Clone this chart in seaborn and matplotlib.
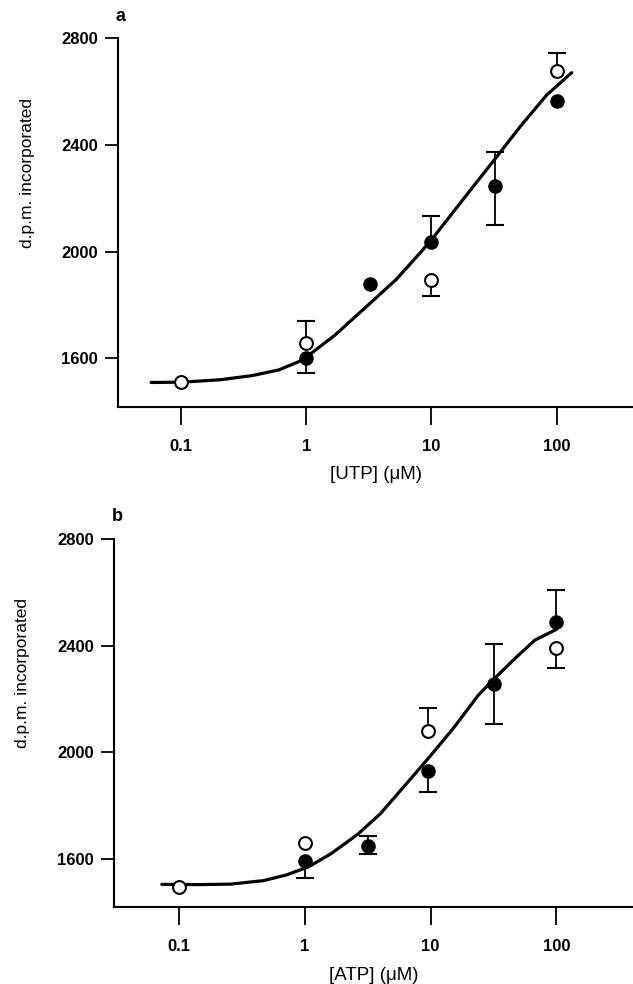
import numpy as np
import pandas as pd
import seaborn as sns
import matplotlib.pyplot as plt

# ---- panel a : UTP ----
utp_open_x = [0.1, 1, 10, 100]
utp_open_y = [1509, 1658, 1895, 2678]
utp_open_lo = [np.nan, np.nan, 60, np.nan]
utp_open_hi = [np.nan, 80, np.nan, 66]

utp_fill_x = [1, 3.2, 10, 32, 100]
utp_fill_y = [1602, 1880, 2036, 2245, 2563]
utp_fill_lo = [58, np.nan, np.nan, 144, np.nan]
utp_fill_hi = [np.nan, np.nan, 97, 130, np.nan]

# fitted curve (log10 of concentration, d.p.m.)
utp_curve_logx = [-1.24, -1.0, -0.69, -0.43, -0.22, -0.06, 0.0, 0.23, 0.54,
                  0.72, 0.93, 1.03, 1.26, 1.49, 1.72, 1.92, 2.12]
utp_curve_y = [1509, 1510, 1519, 1535, 1556, 1587, 1604, 1687, 1819,
               1896, 2006, 2062, 2200, 2337, 2475, 2587, 2671]

# ---- panel b : ATP ----
atp_open_x = [0.1, 1, 9.6, 100]
atp_open_y = [1496, 1659, 2080, 2390]
atp_open_lo = [np.nan, np.nan, np.nan, 72]
atp_open_hi = [np.nan, np.nan, 85, np.nan]

atp_fill_x = [1, 3.2, 9.6, 32, 100]
atp_fill_y = [1592, 1650, 1930, 2256, 2490]
atp_fill_lo = [62, 33, 78, 151, np.nan]
atp_fill_hi = [np.nan, 38, np.nan, 149, 119]

atp_curve_logx = [-1.14, -0.85, -0.59, -0.33, -0.15, 0.03, 0.21, 0.42, 0.6,
                  0.81, 1.0, 1.19, 1.38, 1.51, 1.68, 1.83, 2.0]
atp_curve_y = [1505, 1504, 1506, 1519, 1540, 1571, 1621, 1693, 1770,
               1884, 1988, 2096, 2215, 2278, 2356, 2421, 2461]

x_ticks = [0.1, 1, 10, 100]
x_ticklabels = ['0.1', '1', '10', '100']
y_ticks = [1600, 2000, 2400, 2800]

sns.set_theme(style='ticks')
plt.rcParams['font.family'] = ['Liberation Sans', 'DejaVu Sans']

fig = plt.figure(figsize=(6.33, 9.84), dpi=100)
ax_a = fig.add_axes([118 / 633, 1 - 407 / 984, 1 - 118 / 633, (407 - 38.3) / 984])
ax_b = fig.add_axes([114 / 633, 1 - 907.3 / 984, 1 - 114 / 633, (907.3 - 539) / 984])


def one_sided_bars(ax, x, y, lo, hi):
    # the original shows only one arm of the error bar where points crowd
    for xi, yi, l, h in zip(x, y, lo, hi):
        for d in (-l, h):
            if np.isnan(d):
                continue
            ax.plot([xi, xi], [yi, yi + d], color='black', lw=1.3, zorder=2)
            ax.plot([xi], [yi + d], marker='_', markersize=13, mew=1.5,
                    color='black', zorder=2)


def draw_panel(ax, cx, cy, ox, oy, olo, ohi, fx, fy, flo, fhi, xlabel, letter, xlim, ylim):
    curve = pd.DataFrame({'x': 10 ** np.array(cx), 'y': cy})
    one_sided_bars(ax, ox, oy, olo, ohi)
    one_sided_bars(ax, fx, fy, flo, fhi)
    sns.lineplot(data=curve, x='x', y='y', ax=ax, color='black', linewidth=2.3,
                 estimator=None, sort=False, zorder=3)
    sns.scatterplot(x=fx, y=fy, ax=ax, color='black', s=110, edgecolor='black',
                    linewidth=0, zorder=4)
    sns.scatterplot(x=ox, y=oy, ax=ax, color='white', s=85, edgecolor='black',
                    linewidth=1.5, zorder=5)
    ax.set_xscale('log')
    ax.set_xlim(*xlim)
    ax.set_ylim(*ylim)
    ax.set_xticks(x_ticks)
    ax.set_xticklabels(x_ticklabels)
    ax.xaxis.set_minor_locator(plt.NullLocator())
    ax.set_yticks(y_ticks)
    ax.set_yticklabels([str(v) for v in y_ticks])
    sns.despine(ax=ax)
    for s in ['left', 'bottom']:
        ax.spines[s].set_linewidth(1.5)
        ax.spines[s].set_color('black')
    ax.tick_params(axis='y', direction='out', length=9.5, width=1.3, pad=5,
                   labelsize=12, colors='black')
    ax.tick_params(axis='x', direction='out', length=13, width=1.3, pad=10,
                   labelsize=12, colors='black')
    for lab in ax.get_xticklabels() + ax.get_yticklabels():
        lab.set_fontweight('bold')
    ax.set_xlabel(xlabel, fontsize=13.5, labelpad=9, color='black')
    ax.set_ylabel('d.p.m. incorporated', fontsize=12.5, color='black')
    ax.yaxis.set_label_coords(-0.162, 0.635)
    ax.text(-0.005, 1.06, letter, transform=ax.transAxes, fontsize=13,
            fontweight='bold', ha='left', va='center', color='black')
    ax.set_facecolor('white')


draw_panel(ax_a, utp_curve_logx, utp_curve_y, utp_open_x, utp_open_y, utp_open_lo,
           utp_open_hi, utp_fill_x, utp_fill_y, utp_fill_lo, utp_fill_hi,
           '[UTP] (\u03bcM)', 'a', (10 ** -1.504, 10 ** 2.61), (1417, 2800))
draw_panel(ax_b, atp_curve_logx, atp_curve_y, atp_open_x, atp_open_y, atp_open_lo,
           atp_open_hi, atp_fill_x, atp_fill_y, atp_fill_lo, atp_fill_hi,
           '[ATP] (\u03bcM)', 'b', (10 ** -1.52, 10 ** 2.61), (1419, 2800))

fig.savefig('out.png', dpi=100, facecolor='white')
